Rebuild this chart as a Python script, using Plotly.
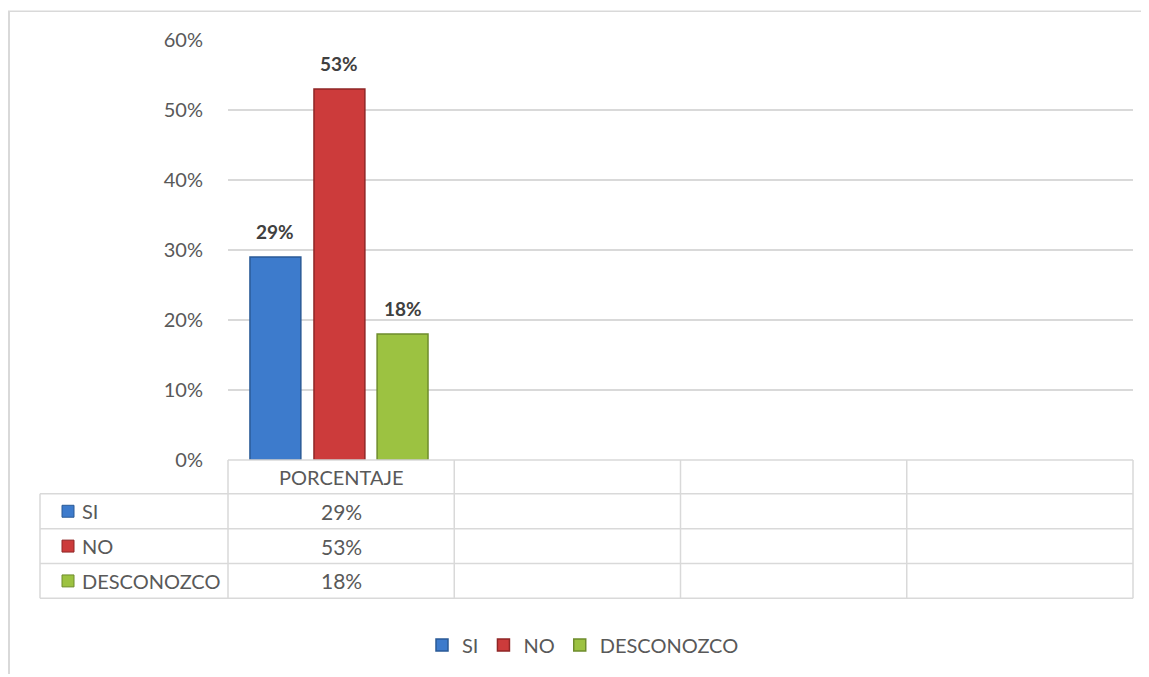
import plotly.graph_objects as go

# ---- data ----
categories = ["PORCENTAJE", "", "", ""]
series_names = ["SI", "NO", "DESCONOZCO"]
series_values = [0.29, 0.53, 0.18]
series_colors = ["#3d7bcc", "#cc3b3b", "#9cc241"]
edge_colors = ["#2a5a96", "#8f2626", "#6e8c2c"]
y_ticks = [0, 0.1, 0.2, 0.3, 0.4, 0.5, 0.6]

OFF = 8  # browser body margin compensation
W, H = 1149 - OFF, 677 - OFF
PL, PR, PT, PB = 228, 1133, 40, 462  # plot area in reference pixels


def px(x):
    return (x - PL) / (PR - PL)


def py(y):
    return (PB - y) / (PB - PT)


FONT = "Lato, Calibri, sans-serif"
GRAY = "#595959"
LINE = "#d9d9d9"

bar_width = 0.225
bar_offsets = [-0.403, -0.12, 0.159]

fig = go.Figure()
for name, val, col, ec, off in zip(series_names, series_values, series_colors, edge_colors, bar_offsets):
    fig.add_trace(go.Bar(
        name=name, x=[0], y=[val], width=[bar_width], offset=[off],
        marker=dict(color=col, line=dict(color=ec, width=1.5)),
        hoverinfo="skip",
    ))
    fig.add_annotation(
        x=off + bar_width / 2, y=val, xref="x", yref="y",
        text=f"<b>{round(val*100)}%</b>", showarrow=False,
        yshift=26, font=dict(family=FONT, size=19, color="#404040"),
    )

shapes = []
col_edges_px = [PL + i * (PR - PL) / len(categories) for i in range(len(categories) + 1)]
row_edges_px = [462, 496, 531, 566, 601]
left_px = 40
shapes.append(dict(type="line", xref="paper", yref="paper", x0=px(PL), x1=px(PR),
                   y0=py(row_edges_px[0]), y1=py(row_edges_px[0]), line=dict(color=LINE, width=1.5)))
for r in row_edges_px[1:]:
    shapes.append(dict(type="line", xref="paper", yref="paper", x0=px(left_px), x1=px(PR),
                       y0=py(r), y1=py(r), line=dict(color=LINE, width=1.5)))
for c in col_edges_px:
    shapes.append(dict(type="line", xref="paper", yref="paper", x0=px(c), x1=px(c),
                       y0=py(row_edges_px[0]), y1=py(row_edges_px[-1]), line=dict(color=LINE, width=1.5)))
shapes.append(dict(type="line", xref="paper", yref="paper", x0=px(left_px), x1=px(left_px),
                   y0=py(row_edges_px[1]), y1=py(row_edges_px[-1]), line=dict(color=LINE, width=1.5)))
# outer chart border (top and left)
shapes.append(dict(type="line", xref="paper", yref="paper", x0=px(8), x1=px(1149),
                   y0=py(11), y1=py(11), line=dict(color=LINE, width=1.5)))
shapes.append(dict(type="line", xref="paper", yref="paper", x0=px(9), x1=px(9),
                   y0=py(11), y1=py(677), line=dict(color=LINE, width=2)))

annotations = []
annotations.append(dict(xref="paper", yref="paper", x=px((col_edges_px[0] + col_edges_px[1]) / 2),
                        y=py((row_edges_px[0] + row_edges_px[1]) / 2), text=categories[0], showarrow=False,
                        xanchor="center", yanchor="middle",
                        font=dict(family=FONT, size=20, color=GRAY)))
for i, (name, val, col, ec) in enumerate(zip(series_names, series_values, series_colors, edge_colors)):
    ymid_px = (row_edges_px[i + 1] + row_edges_px[i + 2]) / 2
    ymid = py(ymid_px)
    # legend key square in the data table
    shapes.append(dict(type="rect", xref="paper", yref="paper", x0=px(62), x1=px(74),
                       y0=py(ymid_px + 6), y1=py(ymid_px - 6),
                       fillcolor=col, line=dict(color=ec, width=1)))
    annotations.append(dict(xref="paper", yref="paper", x=px(80), y=ymid, xanchor="left", yanchor="middle",
                            text=name, showarrow=False,
                            font=dict(family=FONT, size=20, color=GRAY)))
    annotations.append(dict(xref="paper", yref="paper", x=px((col_edges_px[0] + col_edges_px[1]) / 2),
                            y=ymid, text=f"{round(val*100)}%", showarrow=False,
                            xanchor="center", yanchor="middle",
                            font=dict(family=FONT, size=21, color=GRAY)))

for a in annotations:
    fig.add_annotation(**a)

fig.update_layout(
    width=W, height=H,
    margin=dict(l=PL - OFF, r=1149 - PR, t=PT - OFF, b=677 - PB, pad=0),
    paper_bgcolor="white", plot_bgcolor="white",
    barmode="overlay",
    showlegend=True,
    legend=dict(orientation="h", x=px(583), xanchor="center", y=py(648), yanchor="middle",
                font=dict(family=FONT, size=20, color=GRAY), itemwidth=30,
                traceorder="normal", itemclick=False, itemdoubleclick=False),
    xaxis=dict(range=[-0.5, len(categories) - 0.5], showticklabels=False, showgrid=False,
               zeroline=False, showline=False, fixedrange=True),
    yaxis=dict(range=[0, 0.6], tickvals=y_ticks, tickformat=".0%", showgrid=True, gridcolor=LINE,
               gridwidth=1.5, zeroline=False, showline=False, ticklabelstandoff=24,
               tickfont=dict(family=FONT, size=20, color=GRAY), fixedrange=True),
    shapes=shapes,
    font=dict(family=FONT),
)

fig.write_html("out.html")
